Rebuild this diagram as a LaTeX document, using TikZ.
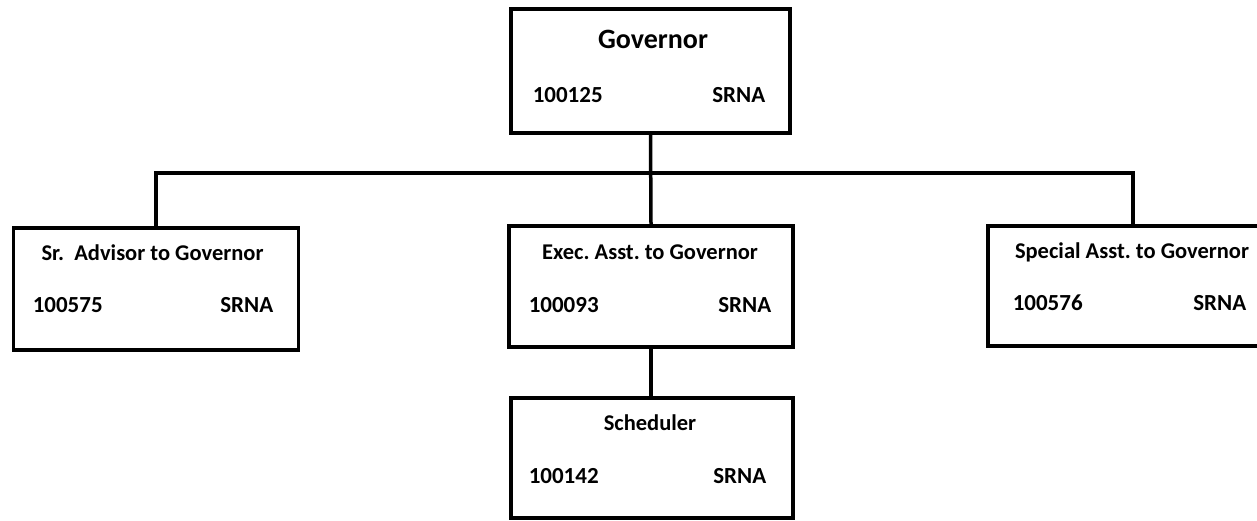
\documentclass[tikz,border=0pt]{standalone}
\usepackage{fontspec}
\setmainfont{Carlito}
\usepackage{tikz}
\frenchspacing

\begin{document}
\begin{tikzpicture}[x=1pt,y=-1pt,line width=3.5pt,
	post/.style={draw,shape=rectangle,inner sep=0pt},
	ttl/.style={inner sep=0pt,anchor=base,font=\bfseries\fontsize{22.5}{26}\selectfont},
	num/.style={inner sep=0pt,anchor=base west,font=\bfseries\fontsize{23}{26}\selectfont},
	grd/.style={inner sep=0pt,anchor=base east,font=\bfseries\fontsize{23}{26}\selectfont}]
	\useasboundingbox (0,0) rectangle (1257,520);

	\node[post,minimum width=279pt,minimum height=124pt] (gov) at (650.5,71) {};
	\node[post,minimum width=285pt,minimum height=122pt] (adv) at (156,289) {};
	\node[post,minimum width=284pt,minimum height=121pt] (exe) at (651,286.5) {};
	\node[post,minimum width=290pt,minimum height=120pt] (spe) at (1133,286) {};
	\node[post,minimum width=282pt,minimum height=120pt] (sch) at (652,458) {};
	\coordinate (bus) at (651,173);

	\node[ttl,font=\bfseries\fontsize{28}{32}\selectfont] (govt) at (653,48) {Governor};
	\node[num] (govn) at (531,102) {100125};
	\node[grd] (govg) at (767,102) {SRNA};

	\node[ttl] (advt) at (152.5,260) {Sr.\ \ Advisor to Governor};
	\node[num] (advn) at (31,312) {100575};
	\node[grd] (advg) at (275,312) {SRNA};

	\node[ttl] (exet) at (650,259) {Exec. Asst. to Governor};
	\node[num] (exen) at (527,312) {100093};
	\node[grd] (exeg) at (773,312) {SRNA};

	\node[ttl] (spet) at (1132,258) {Special Asst. to Governor};
	\node[num] (spen) at (1011,310) {100576};
	\node[grd] (speg) at (1248,310) {SRNA};

	\node[ttl] (scht) at (650,430) {Scheduler};
	\node[num] (schn) at (527,483) {100142};
	\node[grd] (schg) at (768,483) {SRNA};

	\draw (gov.south) -- (exe.north);
	\draw (adv.north) |- (bus) -| (spe.north);
	\draw (exe.south) -- (exe.south |- sch.north);
\end{tikzpicture}
\end{document}
